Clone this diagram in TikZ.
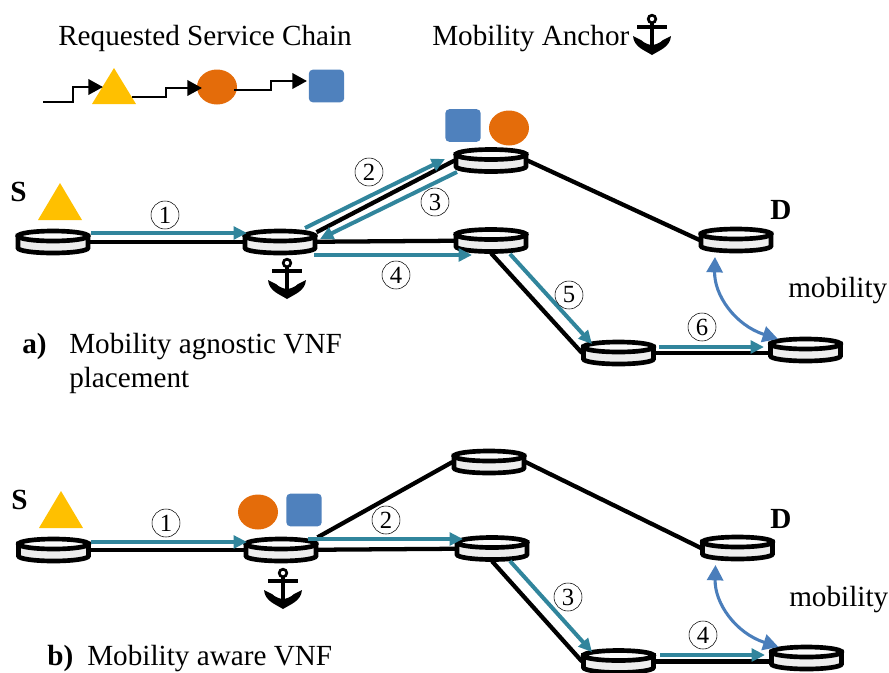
\documentclass[tikz,border=0pt]{standalone}
\usepackage{fontspec}
\setmainfont{Liberation Serif}
\usetikzlibrary{arrows.meta}
\definecolor{teal1}{HTML}{31859C}
\definecolor{mob}{HTML}{4A7EBB}
\definecolor{tri}{HTML}{FFC000}
\definecolor{org}{HTML}{E46C0A}
\definecolor{sq}{HTML}{4F81BD}
\tikzset{
  x=0.75pt,y=-0.75pt,
  routerslot/.style={inner sep=0pt,minimum width=54.75pt,minimum height=19pt,outer sep=0pt},
  link/.style={line width=3.2pt,black},
  flow/.style={line width=3pt,teal1,-{Triangle[length=10pt,width=9.5pt]}},
  stepline/.style={line width=2pt,black,-{Triangle[length=11pt,width=11.5pt]}},
  mobarrow/.style={line width=2.3pt,mob,{Triangle[length=11.5pt,width=12pt]}-{Triangle[length=11.5pt,width=12pt]}},
  numlabel/.style={circle,draw,line width=0.4pt,inner sep=0pt,minimum size=21pt,font=\fontsize{18.5}{18.5}\selectfont},
  bigtext/.style={anchor=base west,inner sep=0pt,font=\fontsize{21.9}{21.9}\selectfont},
  boldtext/.style={anchor=base west,inner sep=0pt,font=\fontsize{21.9}{21.9}\selectfont\bfseries},
  triangleshape/.style={fill=tri,draw=none},
  squareshape/.style={fill=sq,draw=none,rounded corners=3pt,inner sep=0pt,minimum width=26.5pt,minimum height=24.5pt},
  pics/routerart/.style={code={
    \path[fill=white!93!black,draw=black,line width=3.5pt]
      (-35,-6) -- (-35,6) arc[x radius=35,y radius=5,start angle=180,end angle=0] -- (35,-6) -- cycle;
    \path[fill=white!98!black,draw=black,line width=3.5pt] (0,-6) ellipse[x radius=35,y radius=5];
  }},
  pics/anchorart/.style={code={
    \draw[black,line width=2pt] (0,0) circle[radius=3.8];
    \draw[black,line width=2.3pt] (-15,8) -- (15,8);
    \draw[black,line width=3.6pt] (0,3) -- (0,32);
    \fill[black] (-19,17) -- (-11,21) .. controls (-8,24) and (-3,26) .. (0,26)
      .. controls (3,26) and (8,24) .. (11,21) -- (19,17)
      .. controls (18,28) and (8,31) .. (0,36) .. controls (-8,31) and (-18,28) .. (-19,17) -- cycle;
  }},
}
\begin{document}
\begin{tikzpicture}
\useasboundingbox (0,0) rectangle (889,672);
% router positions
\foreach \n/\px/\py in {A/53/242,B/280/242,C/491/160.5,D/491/240.5,E/736/240,F/618.5/353,G/805.5/350,
  AA/53.5/550,BB/281/550,CC/489/462,DD/492/548.5,EE/737.5/548,FF/618.5/661.5,GG/806.5/658}
  \node[routerslot] (\n) at (\px,\py) {};
% links, top
\draw[link] (A.center) -- (B.center);
\draw[link] (B.15) -- (C.west);
\draw[link] (C.east) -- (E.west);
\draw[link] (B.center) -- (D.center);
\draw[link] (D.south) -- (F.west);
\draw[link] (F.center) -- (F.center -| G.center);
% links, bottom
\draw[link] (AA.center) -- (BB.center);
\draw[link] (BB.north east) -- (CC.west);
\draw[link] (CC.east) -- (EE.west);
\draw[link] (BB.center) -- (DD.center);
\draw[link] (DD.south) -- (FF.west);
\draw[link] (FF.center) -- (FF.center -| GG.center);
% routers
\foreach \n in {A,B,C,D,E,F,G,AA,BB,CC,DD,EE,FF,GG}
  \pic at (\n.center) {routerart};
% free ends of flows
\foreach \n/\px/\py in {f1a/91/233,f1b/247/233,f2a/305/228,f2b/445/159,f3a/457/172,f3b/320/239,f4a/314/255,f4b/472/255,
  f5a/510/254,f5b/592/344,f6a/659/347,f6b/764/347,
  g1a/91/542,g1b/247/542,g2a/308/539,g2b/463/539,g3a/510/561,g3b/592/652,g4a/660/655,g4b/765/655,
  m1a/715/257,m1b/778/339,m2a/715.5/565,m2b/778.5/647}
  \coordinate (\n) at (\px,\py);
\foreach \a/\b in {f1a/f1b,f2a/f2b,f3a/f3b,f4a/f4b,f5a/f5b,f6a/f6b,g1a/g1b,g2a/g2b,g3a/g3b,g4a/g4b}
  \draw[flow] (\a) -- (\b);
\draw[mobarrow] (m1a) .. controls (714,295) and (735,325) .. (m1b);
\draw[mobarrow] (m2a) .. controls (714.5,603) and (735.5,633) .. (m2b);
% numbers
\node[numlabel] (n1) at (165,215) {1};
\node[numlabel] (n2) at (369,172) {2};
\node[numlabel] (n3) at (435,202) {3};
\node[numlabel] (n4) at (396,275) {4};
\node[numlabel] (n5) at (569,295) {5};
\node[numlabel] (n6) at (702,327) {6};
\node[numlabel] (k1) at (166,523) {1};
\node[numlabel] (k2) at (386,520) {2};
\node[numlabel] (k3) at (568,597) {3};
\node[numlabel] (k4) at (703,635) {4};
% legend
\path[triangleshape] (114,68) -- (136,104) -- (92,104) -- cycle;
\coordinate (t1) at (43,102);
\coordinate (t1e) at (103,87);
\coordinate (t2) at (132,97);
\coordinate (t2e) at (202,88);
\coordinate (t3) at (234,90);
\coordinate (t3e) at (307,81);
\draw[stepline] (t1) -- (73,102) -- (73,87) -- (t1e);
\fill[org] (217,87) ellipse[x radius=20,y radius=17.5];
\draw[stepline] (t2) -- (166,97) -- (166,88) -- (t2e);
\draw[stepline] (t3) -- (271,90) -- (271,81) -- (t3e);
\node[squareshape] (ls) at (326.5,86) {};
% VNF shapes top
\path[triangleshape] (60,183) -- (82,220) -- (38,220) -- cycle;
\node[squareshape] (ts) at (463,125.5) {};
\fill[org] (509,128) ellipse[x radius=20,y radius=17.5];
% VNF shapes bottom
\path[triangleshape] (61,491) -- (83,528) -- (39,528) -- cycle;
\fill[org] (258,512) ellipse[x radius=20,y radius=17.5];
\node[squareshape] (bs) at (304,510) {};
% anchors
\pic at (652,19) {anchorart};
\pic at (287,263) {anchorart};
\pic at (283,573) {anchorart};
% texts
\node[bigtext] (t-a) at (58,45) {Requested Service Chain};
\node[bigtext] (t-b) at (432,45) {Mobility Anchor};
\node[boldtext] (t-s) at (10,201) {S};
\node[boldtext] (t-d) at (770,219) {D};
\node[bigtext] (t-m) at (788,297) {mobility};
\node[boldtext] (t-c) at (22,353) {a)};
\node[bigtext] (t-e) at (69,353) {Mobility agnostic VNF};
\node[bigtext] (t-f) at (69,387) {placement};
\node[boldtext] (t-s2) at (11,509) {S};
\node[boldtext] (t-d2) at (770,528) {D};
\node[bigtext] (t-m2) at (789,606) {mobility};
\node[boldtext] (t-g) at (47,665) {b)};
\node[bigtext] (t-h) at (87,665) {Mobility aware VNF};
\end{tikzpicture}
\end{document}
